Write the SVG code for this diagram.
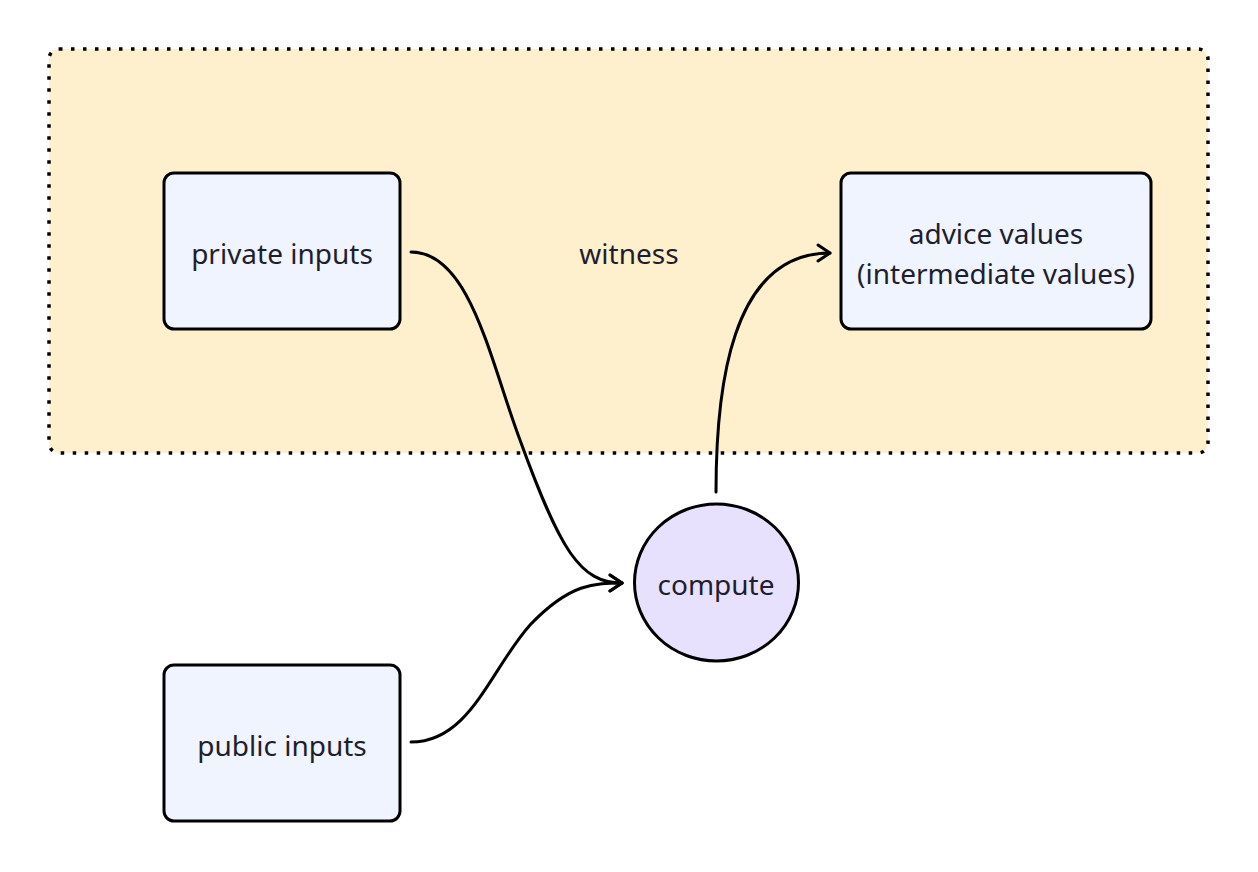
<svg xmlns="http://www.w3.org/2000/svg" width="1258" height="872" viewBox="0 0 1258 872">
<defs>
<marker id="arr" viewBox="0 0 20 20" refX="17" refY="10" markerWidth="20" markerHeight="20" markerUnits="userSpaceOnUse" orient="auto">
<path d="M5,2 L17,10 L5,18" fill="none" stroke="#000" stroke-width="3" stroke-linecap="round" stroke-linejoin="round"/>
</marker>
</defs>
<style>
.box{fill:#eff4fe;stroke:#000;stroke-width:3}
.lbl{font-family:"Noto Sans","Open Sans",sans-serif;font-size:28px;fill:#1e1e2e;text-anchor:middle;dominant-baseline:central}
.edge{fill:none;stroke:#000;stroke-width:3;stroke-linecap:round}
</style>
<rect width="1258" height="872" fill="#fff"/>
<g id="witness">
<rect x="49" y="49" width="1159" height="404" rx="10" fill="#fef0cc" stroke="#000" stroke-width="3.5" stroke-dasharray="3.5 8.5"/>
<text class="lbl" x="629" y="253">witness</text>
</g>
<g id="private-inputs">
<rect class="box" x="164" y="173" width="236" height="156" rx="10"/>
<text class="lbl" x="282" y="253">private inputs</text>
</g>
<g id="advice-values">
<rect class="box" x="841" y="173" width="310" height="156" rx="10"/>
<text class="lbl" x="996" y="233">advice values</text>
<text class="lbl" x="996" y="273">(intermediate values)</text>
</g>
<g id="public-inputs">
<rect class="box" x="164" y="665" width="236" height="156" rx="10"/>
<text class="lbl" x="282" y="745">public inputs</text>
</g>
<g id="compute">
<ellipse cx="716.5" cy="582.5" rx="82" ry="78.5" fill="#e8e1fd" stroke="#000" stroke-width="3"/>
<text class="lbl" x="716" y="584">compute</text>
</g>
<g id="connectors">
<path class="edge" d="M411,252 C470,252 490,360 520,440 C560,550 580,583 622,583" marker-end="url(#arr)"/>
<path class="edge" d="M411,742 C470,742 490,670 530,625 C570,583 595,583 622,583" marker-end="url(#arr)"/>
<path class="edge" d="M716,492 C716,390 730,253 830,253" marker-end="url(#arr)"/>
</g>
</svg>
